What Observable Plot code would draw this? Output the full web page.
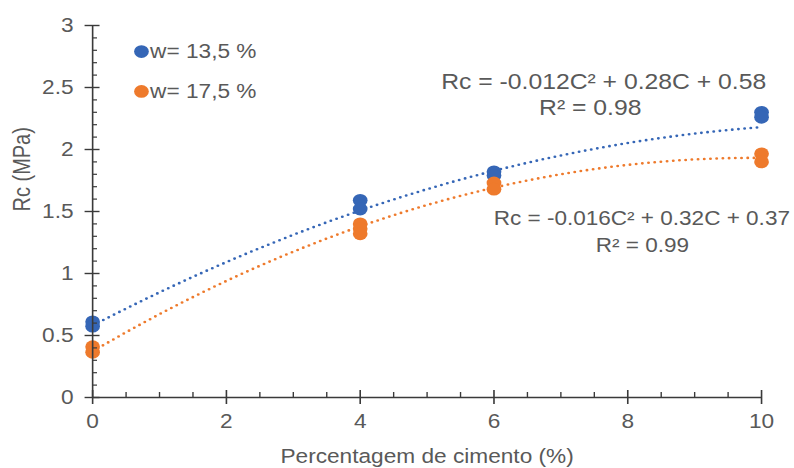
<!DOCTYPE html>
<html>
<head>
<meta charset="utf-8">
<script src="https://cdn.jsdelivr.net/npm/d3@7"></script>
<script src="https://cdn.jsdelivr.net/npm/@observablehq/plot@0.6"></script>
<style>
  html, body { margin: 0; padding: 0; background: #fff; overflow: hidden; }
  #chart { width: 794px; height: 468px; overflow: hidden; }
</style>
</head>
<body>
<div id="chart"></div>
<script>
// ---- data ----
const seriesNames = ["w= 13,5 %", "w= 17,5 %"];
const seriesColors = ["#3566B6", "#EE7A2C"];

const cimento13 = [0, 0, 4, 4, 6, 6, 10, 10];
const rc13      = [0.61, 0.575, 1.59, 1.52, 1.82, 1.79, 2.30, 2.26];

const cimento17 = [0, 0, 4, 4, 4, 6, 6, 10, 10];
const rc17      = [0.41, 0.365, 1.40, 1.36, 1.32, 1.73, 1.68, 1.965, 1.90];

// polynomial trendline coefficients [a (C²), b (C), c]
const coef13 = [-0.012, 0.28, 0.58];
const coef17 = [-0.016, 0.316, 0.372];

const eqLabels = ["Rc = -0.012C² + 0.28C + 0.58", "R² = 0.98",
                  "Rc = -0.016C² + 0.32C + 0.37", "R² = 0.99"];
const eqX = [7.64, 7.44, 8.21, 8.22];
const eqY = [2.54, 2.33, 1.444, 1.226];
const eqSize = [21.5, 21.5, 19.6, 19.6];

const xTicks = [0, 2, 4, 6, 8, 10];
const xTickLabels = ["0", "2", "4", "6", "8", "10"];
const xMinor = [0.5, 1, 1.5, 2.5, 3, 3.5, 4.5, 5, 5.5, 6.5, 7, 7.5, 8.5, 9, 9.5];
const yTicks = [0, 0.5, 1, 1.5, 2, 2.5, 3];
const yTickLabels = ["0", "0.5", "1", "1.5", "2", "2.5", "3"];
const yMinor = d3.range(0, 30).map(i => i / 10).filter(v => Math.round(v * 10) % 5 !== 0);

const xLabel = "Percentagem de cimento (%)";
const yLabel = "Rc (MPa)";

// ---- tables ----
const pts = [
  ...cimento13.map((c, i) => ({c, rc: rc13[i], s: seriesNames[0]})),
  ...cimento17.map((c, i) => ({c, rc: rc17[i], s: seriesNames[1]}))
];
const grid = d3.range(0, 100.5, 1).map(i => i / 10);
const trend = (coef, s) => grid.map(c => ({c, rc: coef[0] * c * c + coef[1] * c + coef[2], s}));
const legend = seriesNames.map((s, i) => ({s, x: 0.73, y: [2.79, 2.468][i]}));
const eqs = eqLabels.map((t, i) => ({t, x: eqX[i], y: eqY[i], size: eqSize[i]}));

const W = 690, S = 794 / W;
const axisColor = "#3a3a3a";
const textColor = "#595959";
const fs = 19.7;
const font = "'Liberation Sans', Arial, Helvetica, sans-serif";

const plot = Plot.plot({
  width: W, height: 468,
  marginLeft: 80, marginRight: 28.7, marginTop: 25, marginBottom: 71,
  x: {domain: [0, 10]},
  y: {domain: [0, 3]},
  color: {domain: seriesNames, range: seriesColors},
  style: {fontFamily: font, fontSize: fs + "px", color: textColor, background: "#fff", overflow: "visible"},
  marks: [
    Plot.line(trend(coef13, seriesNames[0]), {x: "c", y: "rc", stroke: seriesColors[0], strokeWidth: 2.6, strokeDasharray: "0,5.4", strokeLinecap: "round"}),
    Plot.line(trend(coef17, seriesNames[1]), {x: "c", y: "rc", stroke: seriesColors[1], strokeWidth: 2.6, strokeDasharray: "0,5.4", strokeLinecap: "round"}),
    Plot.dot(pts, {x: "c", y: "rc", r: 6.4, fill: "s"}),
    // axes lines
    Plot.ruleX([0], {stroke: axisColor, strokeWidth: 1.4}),
    Plot.ruleY([0], {stroke: axisColor, strokeWidth: 1.4}),
    // y ticks
    Plot.axisY(yTicks, {tickSize: 13, dx: 6.5, text: null, stroke: axisColor, strokeWidth: 1.4, label: null}),
    Plot.axisY(yMinor, {tickSize: 4.3, dx: 4.3, text: null, stroke: axisColor, strokeWidth: 1.2, label: null}),
    Plot.axisY(yTicks, {tickSize: 0, tickPadding: 16.6, tickFormat: (d, i) => yTickLabels[i], fill: textColor, fontSize: fs, label: null}),
    // x ticks
    Plot.axisX(xTicks, {tickSize: 14, dy: -7, text: null, stroke: axisColor, strokeWidth: 1.4, label: null}),
    Plot.axisX(xMinor, {tickSize: 5, dy: -5, text: null, stroke: axisColor, strokeWidth: 1.2, label: null}),
    Plot.axisX(xTicks, {tickSize: 0, tickPadding: 17, tickFormat: (d, i) => xTickLabels[i], fill: textColor, fontSize: fs, label: null}),
    // axis titles
    Plot.text([xLabel], {frameAnchor: "bottom", dy: 52, lineAnchor: "top", fill: textColor, fontSize: fs}),
    Plot.text([yLabel], {frameAnchor: "left", dx: -60.9, rotate: -90, lineAnchor: "middle", fill: textColor, fontSize: 20}),
    // legend
    Plot.dot(legend, {x: "x", y: "y", r: 6.4, fill: "s"}),
    Plot.text(legend, {x: "x", y: "y", text: "s", dx: 7.5, textAnchor: "start", lineAnchor: "middle", fill: textColor, fontSize: fs}),
    // equations
    Plot.text(eqs.slice(0, 2), {x: "x", y: "y", text: "t", textAnchor: "middle", lineAnchor: "middle", fill: textColor, fontSize: eqSize[0]}),
    Plot.text(eqs.slice(2), {x: "x", y: "y", text: "t", textAnchor: "middle", lineAnchor: "middle", fill: textColor, fontSize: eqSize[2]})
  ]
});
plot.style.transformOrigin = "0 0";
plot.style.transform = `scaleX(${S})`;
plot.style.maxWidth = "none";
document.getElementById("chart").appendChild(plot);
</script>
</body>
</html>
